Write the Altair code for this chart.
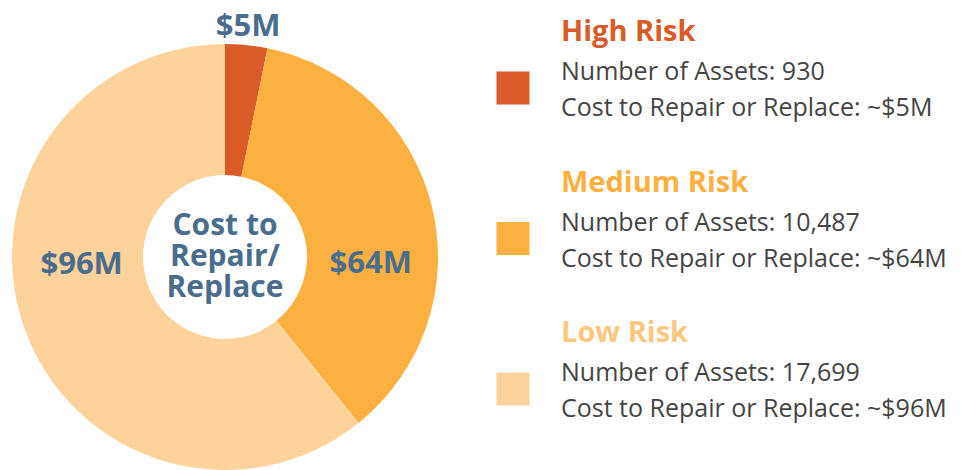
import altair as alt
import pandas as pd

risks = ["High", "Medium", "Low"]
titles = ["High Risk", "Medium Risk", "Low Risk"]
costs = [5, 64, 96]
assets = [930, 10487, 17699]
slice_colors = ["#D95B27", "#FBB040", "#FDD39B"]
title_colors = ["#D95B27", "#FBB040", "#FDC77E"]
center_label = "Cost to\nRepair/\nReplace"

FONT = "Open Sans"
SLATE = "#4B6D8D"
GREY = "#444444"
CX, CY = 225, 257

df = pd.DataFrame({
    "risk": risks,
    "title": titles,
    "cost": costs,
    "assets": assets,
    "idx": list(range(len(risks))),
})

color_slices = alt.Color("risk:N", scale=alt.Scale(domain=risks, range=slice_colors), legend=None)

# slice sizes follow the number of assets; labels show the cost
arc = alt.Chart(df).mark_arc(innerRadius=82, outerRadius=213).encode(
    theta=alt.Theta("assets:Q", stack=True),
    order=alt.Order("idx:Q"),
    color=color_slices,
    x=alt.value(CX),
    y=alt.value(CY),
)

base_lbl = alt.Chart(df).transform_window(
    cum="sum(assets)", sort=[alt.SortField("idx")]
).transform_joinaggregate(total="sum(assets)").transform_calculate(
    frac="(datum.cum - datum.assets / 2) / datum.total",
    label="'$' + datum.cost + 'M'",
)

def slice_label(risk, radius, dy):
    return base_lbl.transform_filter(alt.datum.risk == risk).mark_text(
        radius=radius, dy=dy, font=FONT, fontWeight="bold", fontSize=31,
        color=SLATE, align="center", baseline="middle",
    ).encode(
        theta=alt.Theta("frac:Q", scale=alt.Scale(domain=[0, 1], range=[0, 6.283185307])),
        text="label:N",
        x=alt.value(CX),
        y=alt.value(CY),
    )

lbl_high = slice_label("High", 231, 0)
lbl_med = slice_label("Medium", 150, 42)
lbl_low = slice_label("Low", 152, -43)
labels = alt.layer(lbl_high, lbl_med, lbl_low)

center = alt.Chart(pd.DataFrame({"t": [center_label]})).mark_text(
    font=FONT, fontWeight="bold", fontSize=30, color=SLATE, lineBreak="\n",
    lineHeight=31, align="center", baseline="middle",
).encode(text="t:N", x=alt.value(CX), y=alt.value(CY - 31))

ypos = alt.Y("risk:N", sort=risks, scale=alt.Scale(type="point", range=[32, 333], padding=0), axis=None)

leg_title = alt.Chart(df).mark_text(
    font=FONT, fontWeight="bold", fontSize=29, align="left", baseline="middle",
).encode(
    x=alt.value(561), y=ypos, text="title:N",
    color=alt.Color("risk:N", scale=alt.Scale(domain=risks, range=title_colors), legend=None),
)

leg_assets = alt.Chart(df).transform_calculate(
    line="'Number of Assets: ' + format(datum.assets, ',')"
).mark_text(
    font=FONT, fontSize=25, align="left", baseline="middle", color=GREY, dy=40,
).encode(x=alt.value(561), y=ypos, text="line:N")

leg_cost = alt.Chart(df).transform_calculate(
    line="'Cost to Repair or Replace: ~$' + datum.cost + 'M'"
).mark_text(
    font=FONT, fontSize=25, align="left", baseline="middle", color=GREY, dy=76,
).encode(x=alt.value(561), y=ypos, text="line:N")

leg_sq = alt.Chart(df).mark_point(
    shape="square", filled=True, size=1089, opacity=1, yOffset=56,
).encode(
    x=alt.value(513), y=ypos,
    color=alt.Color("risk:N", scale=alt.Scale(domain=risks, range=slice_colors), legend=None),
)

chart = alt.layer(
    arc, labels, center, leg_title, leg_assets, leg_cost, leg_sq
).resolve_scale(color="independent", theta="independent").properties(
    width=966, height=470, autosize=alt.AutoSizeParams(type="none"), padding=0,
).configure_view(stroke=None)

chart.save("out.html", embed_options={"renderer": "svg", "actions": False})
